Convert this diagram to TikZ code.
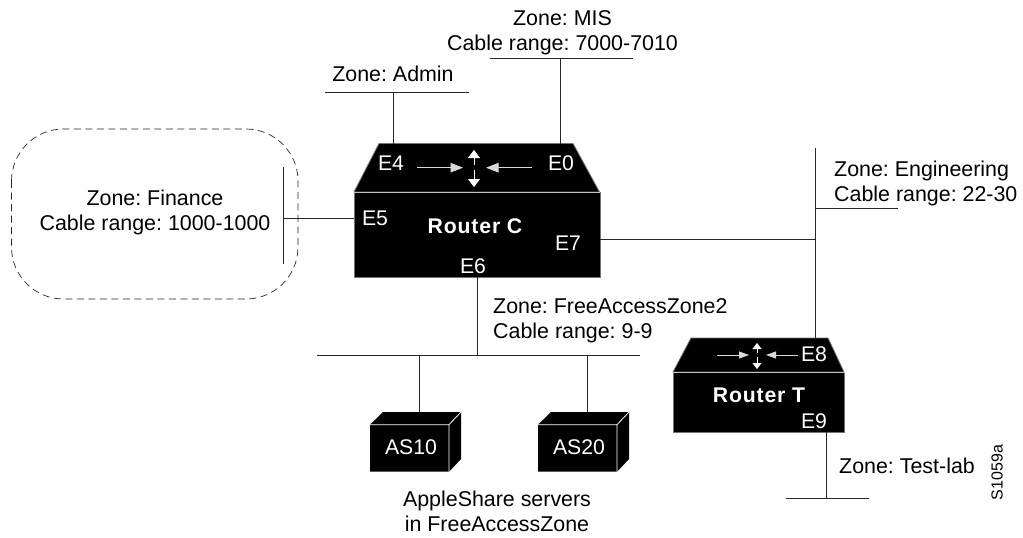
\documentclass[tikz,border=0pt]{standalone}
\usepackage{fontspec}
\setmainfont{Liberation Sans}
\newfontfamily\routerfont[LetterSpace=4]{Liberation Sans Bold}
\usetikzlibrary{arrows.meta}
\frenchspacing
\tikzset{
  zonetext/.style={inner sep=0pt,align=left,font=\fontsize{21.4}{25}\selectfont},
  porttext/.style={inner sep=0pt,text=white,font=\fontsize{21.2}{25}\selectfont},
  routertext/.style={inner sep=0pt,text=white,font=\fontsize{21.2}{25}\routerfont},
  wire/.style={line width=0.9pt,black!85},
  boxbody/.style={fill=black,draw=black!55,line width=0.8pt},
  cueacross/.style={white!85!black,line width=0.8pt,-{Triangle[width=9.5pt,length=12.5pt]}},
  cueupdown/.style={white,line width=0.8pt,-{Triangle[width=12pt,length=8pt]}},
  smallacross/.style={white!85!black,line width=0.8pt,-{Triangle[width=7pt,length=10pt]}},
  smallupdown/.style={white,line width=0.8pt,-{Triangle[width=9pt,length=6pt]}}
}
\begin{document}
\begin{tikzpicture}[x=1pt,y=-1pt]
    \useasboundingbox (0,0) rectangle (1023,538);

    % Finance zone outline
    \draw[black!85,line width=0.7pt,dash pattern=on 7pt off 4.5pt,rounded corners=52pt] (11.5,129) rectangle (298,299);

    % Router C
    \path[fill=black,draw=black!55,line width=0.8pt] (379,143.5) -- (573,143.5) -- (599.5,192) -- (354,192) -- cycle;
    \node[boxbody,minimum width=245.5pt,minimum height=85pt,inner sep=0pt,anchor=north west] (routerC) at (354,192) {};
    \draw[white!75!black,line width=1pt] (routerC.north west) -- (routerC.north east);
    \node[routertext] (nameC) at (475,226) {Router C};
    \node[porttext] (e4) at (391,163) {E4};
    \node[porttext] (e0) at (561,163) {E0};
    \node[porttext] (e5) at (375,218) {E5};
    \node[porttext] (e7) at (568,243) {E7};
    \node[porttext] (e6) at (473,266) {E6};
    \coordinate (crossC) at (474,167.7);
    \coordinate (inLC) at (417,167.7);
    \coordinate (inRC) at (532,167.7);
    \draw[cueacross] (inLC) -- (463,167.7);
    \draw[cueacross] (inRC) -- (486,167.7);
    \draw[cueupdown] ([yshift=2.5pt]crossC) -- (474,150);
    \draw[cueupdown] ([yshift=-2.5pt]crossC) -- (474,187);

    % Router T
    \path[fill=black,draw=black!55,line width=0.8pt] (691,338) -- (828,338) -- (844,372) -- (673,372) -- cycle;
    \node[boxbody,minimum width=171pt,minimum height=60pt,inner sep=0pt,anchor=north west] (routerT) at (673,372) {};
    \draw[white!75!black,line width=1pt] (routerT.north west) -- (routerT.north east);
    \node[routertext] (nameT) at (759,395) {Router T};
    \node[porttext] (e8) at (814,354) {E8};
    \node[porttext] (e9) at (814,421) {E9};
    \coordinate (crossT) at (757,355);
    \draw[smallacross] (717,355) -- (749,355);
    \draw[smallacross] (798,355) -- (766,355);
    \draw[smallupdown] ([yshift=2pt]crossT) -- (757,343);
    \draw[smallupdown] ([yshift=-2pt]crossT) -- (757,369);

    % Servers
    \fill[black] (370,424.7) -- (383,412) -- (461,412) -- (461,459) -- (449,471.7) -- (370,471.7) -- cycle;
    \draw[white,line width=0.8pt] (370,424.7) -- (449,424.7) -- (449,471.7) (449,424.7) -- (461,412);
    \node[porttext] (as10) at (411,447) {AS10};
    \fill[black] (538,424.7) -- (551,412) -- (629,412) -- (629,459) -- (617,471.7) -- (538,471.7) -- cycle;
    \draw[white,line width=0.8pt] (538,424.7) -- (617,424.7) -- (617,471.7) (617,424.7) -- (629,412);
    \node[porttext] (as20) at (579,447) {AS20};
    \coordinate (topAS10) at (419.3,412);
    \coordinate (topAS20) at (587,412);

    % Cable ends and taps
    \coordinate (adminL) at (325,92.7);
    \coordinate (adminR) at (469,92.7);
    \coordinate (adminT) at (393.3,92.7);
    \coordinate (portE4) at (393.3,143.5);
    \coordinate (misL) at (490,58);
    \coordinate (misR) at (633,58);
    \coordinate (misT) at (560,58);
    \coordinate (portE0) at (560,143.5);
    \coordinate (finTop) at (283,166.7);
    \coordinate (finBot) at (283,264);
    \coordinate (finT) at (283,218);
    \coordinate (portE5) at (354,218);
    \coordinate (engTop) at (815,148);
    \coordinate (engT) at (815,208.7);
    \coordinate (engR) at (898,208.7);
    \coordinate (engJ) at (815,239);
    \coordinate (portE7) at (599.5,239);
    \coordinate (portE8) at (815,338);
    \coordinate (portE6) at (477,277);
    \coordinate (freeL) at (317,355.5);
    \coordinate (freeR) at (640,355.5);
    \coordinate (freeT) at (477,355.5);
    \coordinate (freeA) at (419.3,355.5);
    \coordinate (freeB) at (587,355.5);
    \coordinate (portE9) at (826,432);
    \coordinate (labT) at (826,498);
    \coordinate (labL) at (786,498);
    \coordinate (labR) at (869,498);

    % Cables
    \draw[wire] (adminL) -- (adminR);
    \draw[wire] (adminT) -- (portE4);
    \draw[wire] (misL) -- (misR);
    \draw[wire] (misT) -- (portE0);
    \draw[wire] (finTop) -- (finBot);
    \draw[wire] (finT) -- (portE5);
    \draw[wire] (engTop) -- (portE8);
    \draw[wire] (engT) -- (engR);
    \draw[wire] (portE7) -- (engJ);
    \draw[wire] (portE6) -- (freeT);
    \draw[wire] (freeL) -- (freeR);
    \draw[wire] (freeA) -- (topAS10);
    \draw[wire] (freeB) -- (topAS20);
    \draw[wire] (portE9) -- (labT);
    \draw[wire] (labL) -- (labR);

    % Zone labels
    \node[zonetext,align=center] (zoneMIS) at (562.5,32.5) {Zone: MIS\\Cable range: 7000-7010};
    \node[zonetext] (zoneAdmin) at (393,74) {Zone: Admin};
    \node[zonetext,align=center] (zoneFin) at (155,212.5) {Zone: Finance\\Cable range: 1000-1000};
    \node[zonetext,anchor=west] (zoneEng) at (834,183) {Zone: Engineering\\Cable range: 22-30};
    \node[zonetext,anchor=west] (zoneFree) at (493,321) {Zone: FreeAccessZone2\\Cable range: 9-9};
    \node[zonetext,anchor=west] (zoneLab) at (839,466) {Zone: Test-lab};
    \node[zonetext,align=center] (servers) at (497,511.5) {AppleShare servers\\in FreeAccessZone};
    \node[inner sep=0pt,rotate=90,font=\fontsize{16}{18}\selectfont] (figid) at (997,472.5) {S1059a};
\end{tikzpicture}
\end{document}
